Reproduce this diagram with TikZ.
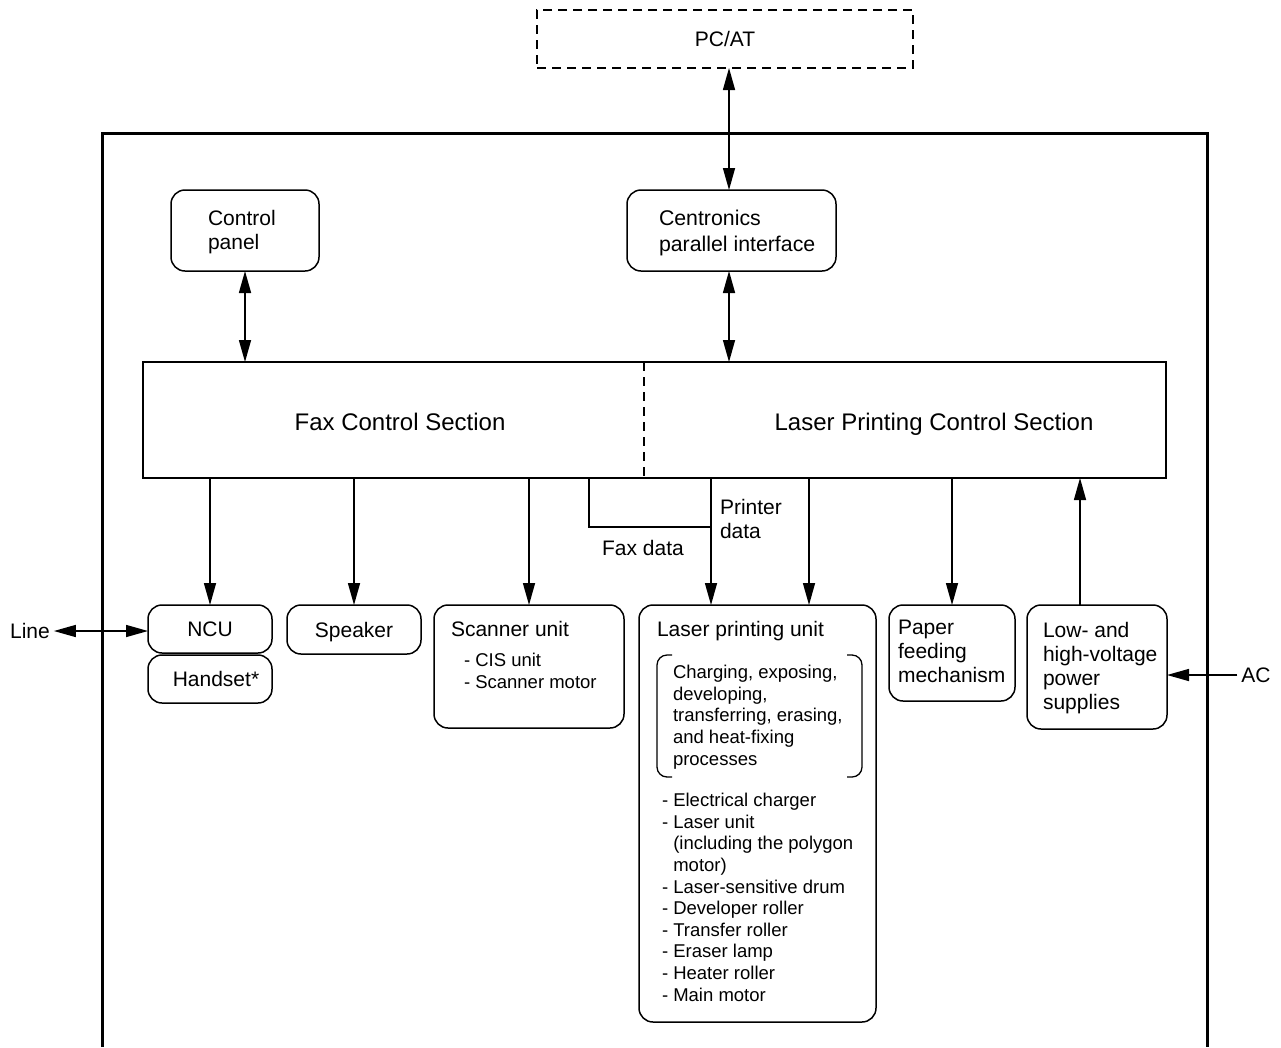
\documentclass[tikz,border=0pt]{standalone}
\usepackage{fontspec}
\setmainfont{Liberation Sans}
\usetikzlibrary{arrows.meta}
\begin{document}
\begin{tikzpicture}[x=1pt,y=-1pt,
  every node/.style={inner sep=0pt, outer sep=0pt},
  box/.style={draw, rounded corners=14pt, line width=1.5pt},
  sqbox/.style={draw, line width=1.5pt},
  big/.style={font=\fontsize{21}{24}\selectfont},
  huge/.style={font=\fontsize{24}{28}\selectfont},
  small/.style={font=\fontsize{18.5}{21.6}\selectfont},
  lbl/.style={anchor=north west, align=left},
  fixed/.style={text height=15pt, text depth=0pt},
  arr/.style={line width=1.5pt, -{Triangle[length=22pt,width=12pt]}},
  darr/.style={line width=1.5pt, {Triangle[length=22pt,width=12pt]}-{Triangle[length=22pt,width=12pt]}},
  dash box/.style={draw, line width=1.5pt, dash pattern=on 9pt off 6pt},
  frame/.style={line width=3pt}
]
\useasboundingbox (0,0) rectangle (1281,1047);
\fill[white] (0,0) rectangle (1281,1047);

% outer frame
\draw[frame] (102,1047) -- (102,133) -- (1207,133) -- (1207,1047);

% PC/AT
\node[dash box, big, fixed, minimum width=376pt, minimum height=58pt, anchor=north west] (pc) at (537,10) {PC/AT};

% Control panel
\node[box, minimum width=148pt, minimum height=81pt, anchor=north west] (cp) at (171,190) {};
\node[lbl, big] (cpt) at (208,210.5) {Control\\panel};

% Centronics
\node[box, minimum width=209pt, minimum height=81pt, anchor=north west] (cen) at (627,190) {};
\node[lbl, font=\fontsize{21.3}{25.5}\selectfont] (cent) at (659,210.5) {Centronics\\parallel interface};

% Fax / Laser control section
\node[sqbox, minimum width=1023pt, minimum height=116pt, anchor=north west] (fax) at (143,362) {};
\coordinate (div) at (644,0);
\draw[line width=1.5pt, dash pattern=on 9pt off 6pt] (fax.north -| div) -- (fax.south -| div);
\node[huge, anchor=base] (faxt) at (400,430.6) {Fax Control Section};
\node[huge, anchor=base] (lpct) at (934,430.6) {Laser Printing Control Section};

% bottom boxes
\node[box, big, fixed, minimum width=124pt, minimum height=48pt, anchor=north west] (ncu) at (148,605) {NCU};
\node[box, big, fixed, minimum width=124pt, minimum height=48pt, anchor=north west] (hs) at (148,655) {\hspace{12pt}Handset*};
\node[box, big, fixed, minimum width=134pt, minimum height=49pt, anchor=north west] (spk) at (287,605) {Speaker};
\node[box, minimum width=190pt, minimum height=123pt, anchor=north west] (scn) at (434,605) {};
\node[lbl, big] (scnt) at (451,621.5) {Scanner unit};
\node[lbl, small] (scnl) at (464,653.3) {- CIS unit\\- Scanner motor};

\node[box, minimum width=237pt, minimum height=417pt, anchor=north west] (lpu) at (639,605) {};
\node[lbl, big] (lput) at (657,621.5) {Laser printing unit};
% bracket
\draw[line width=1.3pt] (672,655) -- (667,655) arc[start angle=90,end angle=180,radius=10pt] -- (657,767) arc[start angle=180,end angle=270,radius=10pt] -- (672,777);
\draw[line width=1.3pt] (847,655) -- (852,655) arc[start angle=90,end angle=0,radius=10pt] -- (862,767) arc[start angle=0,end angle=-90,radius=10pt] -- (847,777);
\node[lbl, small] (proc) at (673,665.3) {Charging, exposing,\\developing,\\transferring, erasing,\\and heat-fixing\\processes};
\node[lbl, small] (parts) at (662,793.3) {- Electrical charger\\- Laser unit\\\hphantom{-\ }(including the polygon\\\hphantom{-\ }motor)\\- Laser-sensitive drum\\- Developer roller\\- Transfer roller\\- Eraser lamp\\- Heater roller\\- Main motor};

\node[box, minimum width=126pt, minimum height=96pt, anchor=north west] (pap) at (889,605) {};
\node[lbl, big] (papt) at (898,620.5) {Paper\\feeding\\mechanism};

\node[box, minimum width=140pt, minimum height=124pt, anchor=north west] (pow) at (1027,605) {};
\node[lbl, big] (powt) at (1043,622.5) {Low- and\\high-voltage\\power\\supplies};

% outside labels
\node[big, inner sep=4pt] (line) at (30,631) {Line};
\node[big, inner sep=4pt] (ac) at (1256,675) {AC};

% connectors
\draw[darr] (cen.north -| 729,0) -- (pc.south -| 729,0);
\draw[darr] (cp.south) -- (fax.north -| cp.south);
\draw[darr] (cen.south -| 729,0) -- (fax.north -| 729,0);

\draw[arr] (fax.south -| ncu.north) -- (ncu.north);
\draw[arr] (fax.south -| spk.north) -- (spk.north);
\draw[arr] (fax.south -| scn.north) -- (scn.north);
\coordinate (pd) at (711,0);
\coordinate (ld) at (809,0);
\coordinate (fd) at (589,527);
\draw[arr] (fax.south -| pd) -- (lpu.north -| pd);
\draw[arr] (fax.south -| ld) -- (lpu.north -| ld);
\draw[line width=1.5pt] (fax.south -| fd) -- (fd) -- (fd -| pd);
\draw[arr] (fax.south -| pap.north) -- (pap.north);
\coordinate (pw) at (1080,0);
\draw[arr] (pow.north -| pw) -- (fax.south -| pw);

\draw[darr] (line.east) -- (ncu.west |- line.east);
\draw[arr] (ac.west) -- (pow.east |- ac.west);

\node[lbl, big] (prd) at (720,499.5) {Printer\\data};
\node[big] (fdt) at (643,548) {Fax data};
\end{tikzpicture}
\end{document}
